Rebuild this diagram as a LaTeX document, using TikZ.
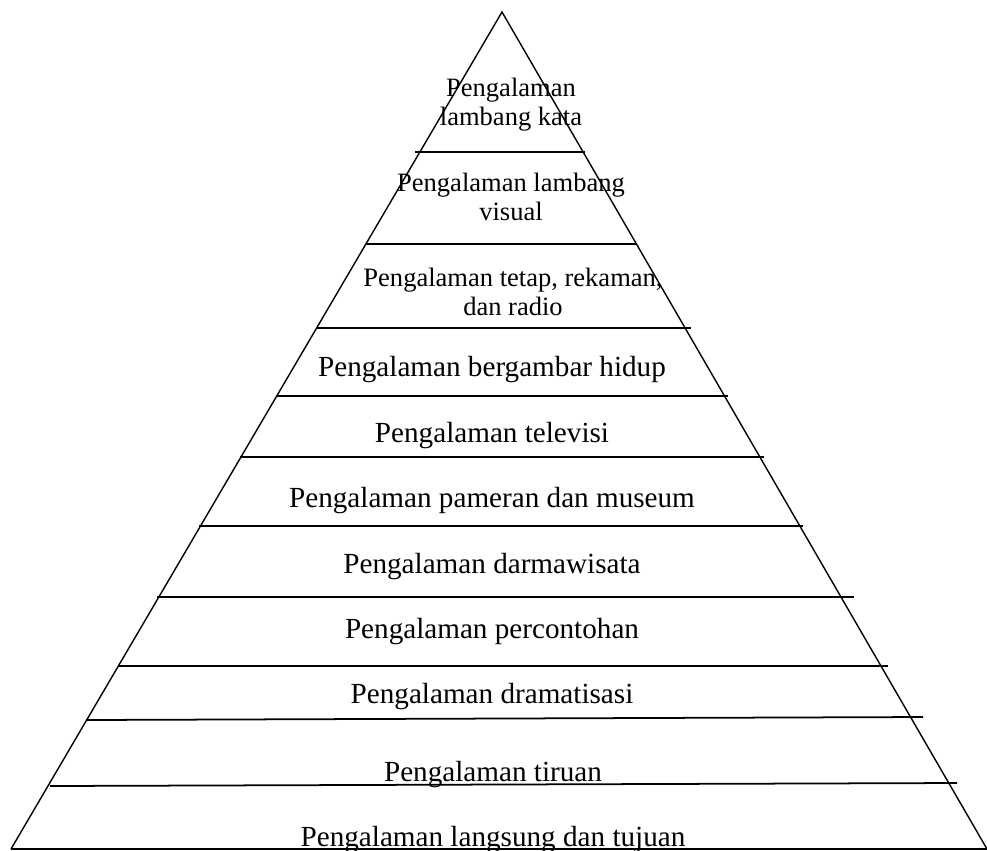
\documentclass[tikz,border=0pt]{standalone}
\usepackage{fontspec}
\setmainfont{Liberation Serif}

\begin{document}
\begin{tikzpicture}[x=0.02cm, y=-0.02cm,
  every node/.style={inner sep=0pt, outer sep=0pt, anchor=base, align=center},
  big/.style={font=\fontsize{16.6}{20}\selectfont},
  small/.style={font=\fontsize{15.1}{16.4}\selectfont},
  side/.style={line width=0.8pt, line join=miter},
  layer/.style={line width=1pt}]
\useasboundingbox (0,0) rectangle (987,850);

\coordinate (apex) at (502,12);
\coordinate (bl) at (11,849);
\coordinate (br) at (987,849);
\draw[side] (bl) -- (apex) -- (br);
\draw[layer] (bl) -- (br);

\draw[layer] (415,152) -- (585,152);
\draw[layer] (366,244) -- (637,244);
\draw[layer] (317,328) -- (691,328);
\draw[layer] (277,396) -- (728,396);
\draw[layer] (240,457) -- (764,457);
\draw[layer] (199,526) -- (803,526);
\draw[layer] (157,597) -- (854,597);
\draw[layer] (118,666) -- (888,666);
\draw[layer] (86,720) -- (923,717);
\draw[layer] (50,786) -- (957,783);

\node[small] (kata) at (511,125) {Pengalaman\\lambang kata};
\node[small] (visual) at (511,220) {Pengalaman lambang\\visual};
\node[small] (rekaman) at (513,315) {Pengalaman tetap, rekaman,\\dan radio};
\node[big] (hidup) at (492,376) {Pengalaman bergambar hidup};
\node[big] (televisi) at (492,442) {Pengalaman televisi};
\node[big] (museum) at (492,507) {Pengalaman pameran dan museum};
\node[big] (darmawisata) at (492,573) {Pengalaman darmawisata};
\node[big] (percontohan) at (492,638) {Pengalaman percontohan};
\node[big] (dramatisasi) at (492,703) {Pengalaman dramatisasi};
\node[big] (tiruan) at (493,781) {Pengalaman tiruan};
\node[big] (langsung) at (493,846) {Pengalaman langsung dan tujuan};
\end{tikzpicture}
\end{document}
